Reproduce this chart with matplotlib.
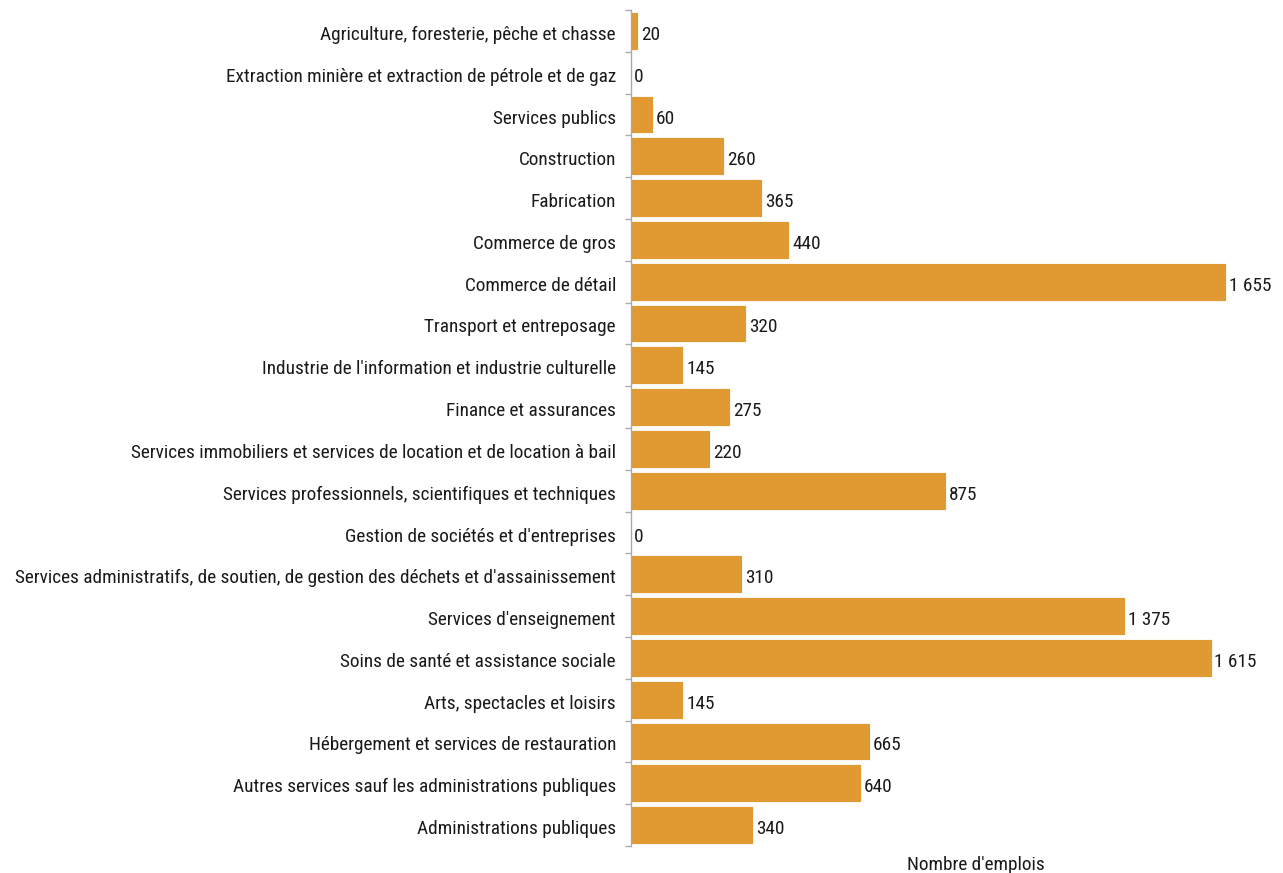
import matplotlib
matplotlib.use("Agg")
import matplotlib.pyplot as plt
import matplotlib.transforms as mtransforms
import numpy as np
from matplotlib import font_manager

categories = [
    "Agriculture, foresterie, pêche et chasse",
    "Extraction minière et extraction de pétrole et de gaz",
    "Services publics",
    "Construction",
    "Fabrication",
    "Commerce de gros",
    "Commerce de détail",
    "Transport et entreposage",
    "Industrie de l'information et industrie culturelle",
    "Finance et assurances",
    "Services immobiliers et services de location et de location à bail",
    "Services professionnels, scientifiques et techniques",
    "Gestion de sociétés et d'entreprises",
    "Services administratifs, de soutien, de gestion des déchets et d'assainissement",
    "Services d'enseignement",
    "Soins de santé et assistance sociale",
    "Arts, spectacles et loisirs",
    "Hébergement et services de restauration",
    "Autres services sauf les administrations publiques",
    "Administrations publiques",
]
values = [20, 0, 60, 260, 365, 440, 1655, 320, 145, 275, 220, 875, 0, 310, 1375, 1615, 145, 665, 640, 340]
xlabel = "Nombre d'emplois"

names = {f.name for f in font_manager.fontManager.ttflist}
fam, fs = "Liberation Sans", 12.4
for cand, size in [("Liberation Sans Narrow", 14.5), ("Roboto Condensed", 13.85), ("Open Sans Condensed", 13.5)]:
    if cand in names:
        fam, fs = cand, size
        break
plt.rcParams['font.family'] = [fam, 'DejaVu Sans']

W, H = 1283, 873
fig = plt.figure(figsize=(W / 100, H / 100), dpi=100)
ax = fig.add_axes([631 / W, (H - 846) / H, (W - 631) / W, 836 / H])

n = len(categories)
y = np.arange(n)
color = '#E19A31'
ax.barh(y, values, height=0.9, color=color, edgecolor='white', linewidth=0.6)
ax.set_ylim(n - 0.5, -0.5)
ax.set_xlim(0, 652 / 0.3595)

txtc = '#1a1a1a'
shift = mtransforms.ScaledTranslation(0, -4 / 100, fig.dpi_scale_trans)
for yi, v in zip(y, values):
    lbl = f"{v:,}".replace(",", " ")
    ax.text(v + 8, yi, lbl, va='center', ha='left', fontsize=fs, color=txtc,
            transform=ax.transData + shift)

lab_tr = (mtransforms.blended_transform_factory(ax.transAxes, ax.transData)
          + mtransforms.ScaledTranslation(-15 / 100, -4 / 100, fig.dpi_scale_trans))
for yi, cat in zip(y, categories):
    ax.text(0, yi, cat, ha='right', va='center', fontsize=fs, color=txtc,
            transform=lab_tr, clip_on=False)

ax.set_yticks([])
ax.set_yticks(np.arange(-0.5, n, 1), minor=True)
ax.tick_params(axis='y', which='minor', length=4, color='#AAAAAA', width=1)
ax.set_xticks([])
for s in ['top', 'right', 'bottom']:
    ax.spines[s].set_visible(False)
ax.spines['left'].set_color('#AAAAAA')
ax.spines['left'].set_linewidth(1)

fig.text(976 / W, 1 - 865 / H, xlabel, ha='center', va='center', fontsize=fs, color=txtc)

fig.savefig("out.png", dpi=100)
